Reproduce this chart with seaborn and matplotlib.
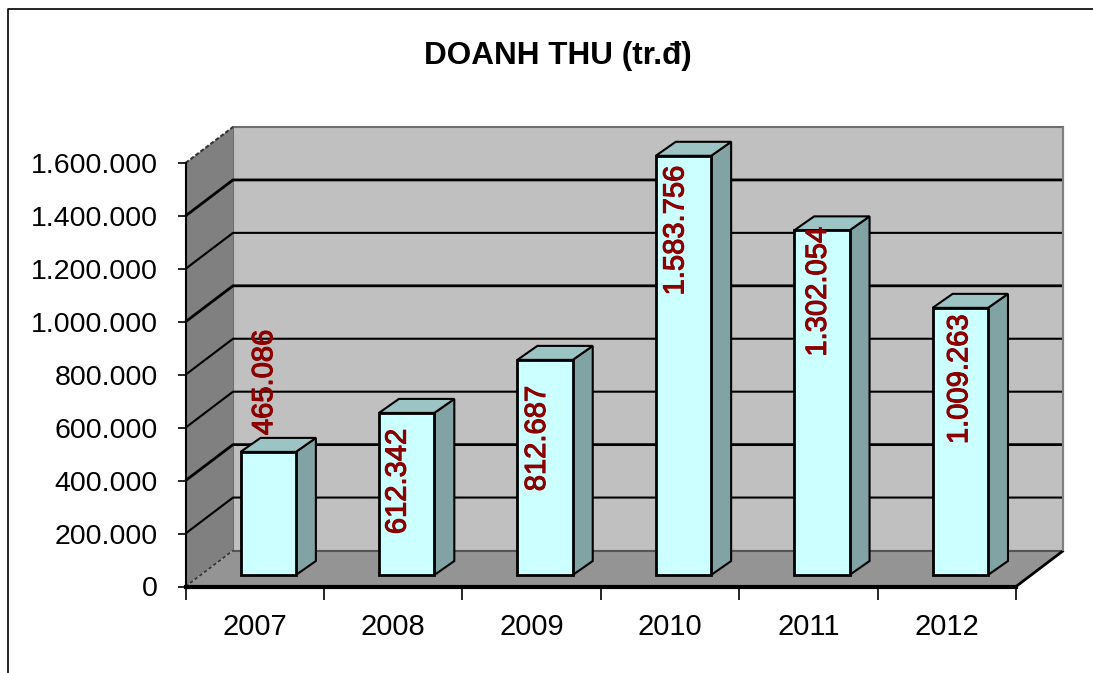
import matplotlib
matplotlib.use("Agg")
import matplotlib.pyplot as plt
import matplotlib.patheffects as pe
import seaborn as sns
from matplotlib.patches import Polygon
from matplotlib.lines import Line2D

years = ["2007", "2008", "2009", "2010", "2011", "2012"]
revenue = [465086, 612342, 812687, 1583756, 1302054, 1009263]
value_labels = ["465.086", "612.342", "812.687", "1.583.756", "1.302.054", "1.009.263"]
y_ticks = [0, 200000, 400000, 600000, 800000, 1000000, 1200000, 1400000, 1600000]
title = "DOANH THU (tr.đ)"

# label nudges in pixels from the bar top centre (they are placed by hand in the original)
label_dx = [-4, -9, -8, -8, -4, -1]
label_dy = [122, -16, -26, -10, 3, -7]
grid_widths = [1.5, 1.5, 2.0, 1.5, 1.5, 2.0, 1.5, 2.0, 1.5]

W, H = 1093, 673
sns.set_style("ticks")
plt.rcParams["font.family"] = ["Liberation Sans", "DejaVu Sans"]

fig = plt.figure(figsize=(W / 100, H / 100), dpi=100)
ax = fig.add_axes([185.5 / W, 1 - 586.5 / H, 830.5 / W, 423.5 / H])
ax.patch.set_alpha(0)

sns.barplot(x=years, y=revenue, color="#CCFFFF", saturation=1, width=0.4,
            edgecolor="black", linewidth=2, ax=ax)
ax.set_xlim(-0.5, 5.5)
ax.set_ylim(0, 1600000)

# pixel sizes to data units
px_x = 6 / 830.5
px_y = 1600000 / 423.5
wall_dx, wall_dy = 47.5 * px_x, 36 * px_y
depth_dx, depth_dy = 20 * px_x, 14 * px_y
x0, x1 = -0.5, 5.5
top = y_ticks[-1]


def face(points, fill, edge="none", lw=1.0, z=1, ls="-"):
    ax.add_patch(Polygon(points, closed=True, facecolor=fill, edgecolor=edge, linewidth=lw,
                         linestyle=ls, zorder=z, clip_on=False))


def edge_line(xs, ys, color="black", lw=1.5, ls="-"):
    ax.add_line(Line2D(xs, ys, color=color, lw=lw, ls=ls, zorder=1, clip_on=False,
                       solid_capstyle="butt"))


# walls and floor
face([(x0 + wall_dx, wall_dy), (x1 + wall_dx, wall_dy), (x1 + wall_dx, top + wall_dy),
      (x0 + wall_dx, top + wall_dy)], "#C0C0C0", "#6E6E6E", 1.5, 0.5)
face([(x0, 0), (x0 + wall_dx, wall_dy), (x0 + wall_dx, top + wall_dy), (x0, top)], "#808080", z=0.6)
face([(x0, 0), (x1, 0), (x1 + wall_dx, wall_dy), (x0 + wall_dx, wall_dy)], "#949494", z=0.7)

# gridlines bent across side wall and back wall
for v, lw in zip(y_ticks[1:], grid_widths[1:]):
    xs = [x0, x0 + wall_dx, x1 + wall_dx]
    ys = [v, v + wall_dy, v + wall_dy]
    if v == top:
        edge_line(xs[:2], ys[:2], "#333333", 1.5, (0, (2, 1)))
    else:
        edge_line(xs, ys, "black", lw)

# floor edges
edge_line([x0 + wall_dx, x1 + wall_dx], [wall_dy, wall_dy], "#555555", 1.5)
edge_line([x0, x0 + wall_dx], [0, wall_dy], "#333333", 1.2, (0, (2, 1.5)))
edge_line([x1, x1 + wall_dx], [0, wall_dy], "black", 2)
edge_line([x1 + wall_dx, x1 + wall_dx], [wall_dy, top + wall_dy], "#808080", 1.5)

# move bars onto the floor, add the side and top faces
floor = 11.5 * px_y
shift = 13.5 * px_x
for i, bar in enumerate(ax.patches[:len(years)]):
    bar.set_x(bar.get_x() + shift)
    bar.set_y(floor)
    bar.set_zorder(4)
    bar.set_clip_on(False)
    bx, bw, bh = bar.get_x(), bar.get_width(), bar.get_height()
    r, t = bx + bw, floor + bh
    face([(r, floor), (r + depth_dx, floor + depth_dy), (r + depth_dx, t + depth_dy), (r, t)],
         "#82A3A3", "black", 1.5, 3)
    face([(bx, t), (r, t), (r + depth_dx, t + depth_dy), (bx + depth_dx, t + depth_dy)],
         "#9CC4C4", "black", 1.5, 3)
    txt = ax.annotate(value_labels[i], xy=(bx + bw / 2, t), xycoords="data",
                      xytext=(label_dx[i] * 0.72, label_dy[i] * 0.72), textcoords="offset points",
                      rotation=90, ha="center", va="top", fontsize=21, color="#8B0000",
                      zorder=6, annotation_clip=False)
    txt.set_path_effects([pe.withStroke(linewidth=0.8, foreground="#8B0000")])

# axes
sns.despine(ax=ax, top=True, right=True)
for side in ["left", "bottom"]:
    ax.spines[side].set_color("black")
    ax.spines[side].set_zorder(2.5)
ax.spines["left"].set_linewidth(1.5)
ax.spines["bottom"].set_linewidth(3)

ax.set_yticks(y_ticks)
ax.set_yticklabels([f"{v:,}".replace(",", ".") for v in y_ticks])
ax.tick_params(axis="y", length=6, width=1.2, color="black", labelsize=20.5, pad=14, labelcolor="black")
ax.set_xticks([i - 0.5 for i in range(7)])
ax.set_xticklabels([""] * 7)
ax.set_xticks(range(6), minor=True)
ax.set_xticklabels(years, minor=True)
ax.tick_params(axis="x", which="major", length=9, width=1.2, color="black")
ax.tick_params(axis="x", which="minor", length=0, labelsize=21, pad=19, labelcolor="black")
ax.set_xlabel("")
ax.set_ylabel("")

fig.text(558 / W, 1 - 56 / H, title, ha="center", va="center", fontsize=22.7, fontweight="bold", color="black")

# outer chart frame, only partly inside the crop
fig.add_artist(Line2D([7.5 / W, 7.5 / W, 1], [0, 1 - 8.5 / H, 1 - 8.5 / H], color="black", lw=1.2))

fig.savefig("out.png", dpi=100, facecolor="white")
